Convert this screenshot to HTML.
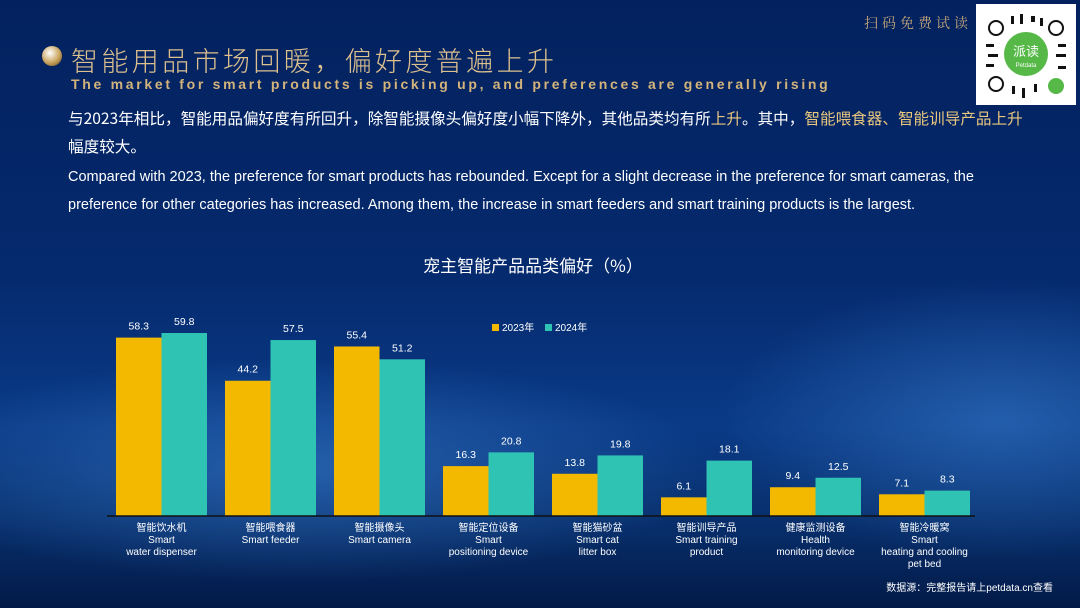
<!DOCTYPE html>
<html><head><meta charset="utf-8"><style>
body{margin:0;width:1080px;height:608px;overflow:hidden;font-family:"Liberation Sans","Noto Sans CJK SC",sans-serif;}
#bg{position:absolute;left:0;top:0;width:1080px;height:608px;background:
radial-gradient(ellipse 600px 160px at 300px 470px,rgba(60,130,210,0.55),transparent 70%),
radial-gradient(ellipse 400px 200px at 1000px 420px,rgba(60,130,210,0.5),transparent 70%),
linear-gradient(180deg,#03215e 0%,#052a6e 45%,#0a3a86 70%,#08306e 85%,#031a48 100%);}
.t{position:absolute;white-space:nowrap}
</style></head><body><div id="bg"></div>
<div class="t" style="left:42px;top:46px;width:20px;height:20px;border-radius:50%;background:radial-gradient(circle at 40% 35%,#fff,#c9a35c 55%,#5a4018)"></div>
<div class="t" style="left:71px;top:40px;font-size:27px;letter-spacing:3.4px;color:#dcc08e;font-family:'Noto Sans CJK SC',sans-serif;font-weight:300">智能用品市场回暖，偏好度普遍上升</div>
<div class="t" style="left:71px;top:76px;font-size:14px;letter-spacing:2.7px;color:#d4b47a;font-weight:bold">The market for smart products is picking up, and preferences are generally rising</div>
<div class="t" style="left:864px;top:13px;font-size:14px;letter-spacing:4px;color:#c9a97a;font-family:'Noto Serif CJK SC',serif">扫码免费试读</div>
<div class="t" style="left:976px;top:4px;width:100px;height:101px;background:#fff">
<svg width="100" height="101">
<g fill="#111">
<circle cx="20" cy="24" r="7" fill="none" stroke="#111" stroke-width="2"/><circle cx="80" cy="24" r="7" fill="none" stroke="#111" stroke-width="2"/><circle cx="20" cy="80" r="7" fill="none" stroke="#111" stroke-width="2"/>
<rect x="35" y="12" width="3" height="8"/><rect x="44" y="10" width="3" height="10"/><rect x="55" y="12" width="4" height="6"/><rect x="64" y="14" width="3" height="8"/>
<rect x="10" y="40" width="8" height="3"/><rect x="12" y="50" width="10" height="3"/><rect x="10" y="60" width="8" height="3"/>
<rect x="82" y="40" width="8" height="3"/><rect x="80" y="50" width="10" height="3"/><rect x="82" y="62" width="8" height="3"/>
<rect x="36" y="82" width="3" height="8"/><rect x="46" y="84" width="3" height="10"/><rect x="58" y="80" width="3" height="8"/>
</g>
<circle cx="50" cy="50" r="22" fill="#55b847"/><text x="50" y="52" font-size="13" fill="#fff" text-anchor="middle" font-family="Noto Sans CJK SC">派读</text>
<text x="50" y="63" font-size="6" fill="#fff" text-anchor="middle">Petdata</text>
<circle cx="80" cy="82" r="8" fill="#55b847"/></svg></div>
<div class="t" style="left:68px;top:104px;font-size:15.6px;color:#fff;line-height:28px;font-family:'Noto Sans CJK SC',sans-serif;width:1000px;white-space:normal">与2023年相比，智能用品偏好度有所回升，除智能摄像头偏好度小幅下降外，其他品类均有所<span style="color:#e9c77e">上升</span>。其中，<span style="color:#e9c77e">智能喂食器、智能训导产品上升</span><br>幅度较大。</div>
<div class="t" style="left:68px;top:163px;font-size:14.5px;color:#fff;line-height:28px">Compared with 2023, the preference for smart products has rebounded. Except for a slight decrease in the preference for smart cameras, the<br>preference for other categories has increased. Among them, the increase in smart feeders and smart training products is the largest.</div>
<div class="t" style="left:0;width:1066px;text-align:center;top:252px;font-size:17px;color:#fff;font-family:'Noto Sans CJK SC',sans-serif">宠主智能产品品类偏好（%）</div>
<svg class="t" style="left:0;top:0" width="1080" height="608" font-family="Liberation Sans,Noto Sans CJK SC,sans-serif">
<g id="bars"></g>
<rect x="492" y="324" width="7" height="7" fill="#f2b900"/><text x="502" y="331" font-size="10" fill="#fff">2023年</text>
<rect x="545" y="324" width="7" height="7" fill="#2fc3b4"/><text x="555" y="331" font-size="10" fill="#fff">2024年</text>
<line x1="107" y1="516" x2="975" y2="516" stroke="#111" stroke-width="1.5"/>
<text x="1053" y="591" font-size="10" fill="#fff" text-anchor="end">数据源：完整报告请上petdata.cn查看</text>
</svg>
<script>
var d=[[58.3,59.8,["智能饮水机","Smart","water dispenser"]],[44.2,57.5,["智能喂食器","Smart feeder"]],[55.4,51.2,["智能摄像头","Smart camera"]],[16.3,20.8,["智能定位设备","Smart","positioning device"]],[13.8,19.8,["智能猫砂盆","Smart cat","litter box"]],[6.1,18.1,["智能训导产品","Smart training","product"]],[9.4,12.5,["健康监测设备","Health","monitoring device"]],[7.1,8.3,["智能冷暖窝","Smart","heating and cooling","pet bed"]]];
var s='';d.forEach(function(g,i){var x=116+i*109;
[[g[0],'#f2b900',x],[g[1],'#2fc3b4',x+45.5]].forEach(function(b){var h=b[0]*3.06;
s+='<rect x="'+b[2]+'" y="'+(516-h)+'" width="45.5" height="'+h+'" fill="'+b[1]+'"/>';
s+='<text x="'+(b[2]+22.75)+'" y="'+(516-h-8)+'" font-size="10.5" fill="#fff" text-anchor="middle">'+b[0]+'</text>';});
g[2].forEach(function(t,j){s+='<text x="'+(x+45.5)+'" y="'+(531+j*12)+'" font-size="10" fill="#fff" text-anchor="middle">'+t+'</text>';});});
document.getElementById('bars').innerHTML=s;
</script>
</body></html>
